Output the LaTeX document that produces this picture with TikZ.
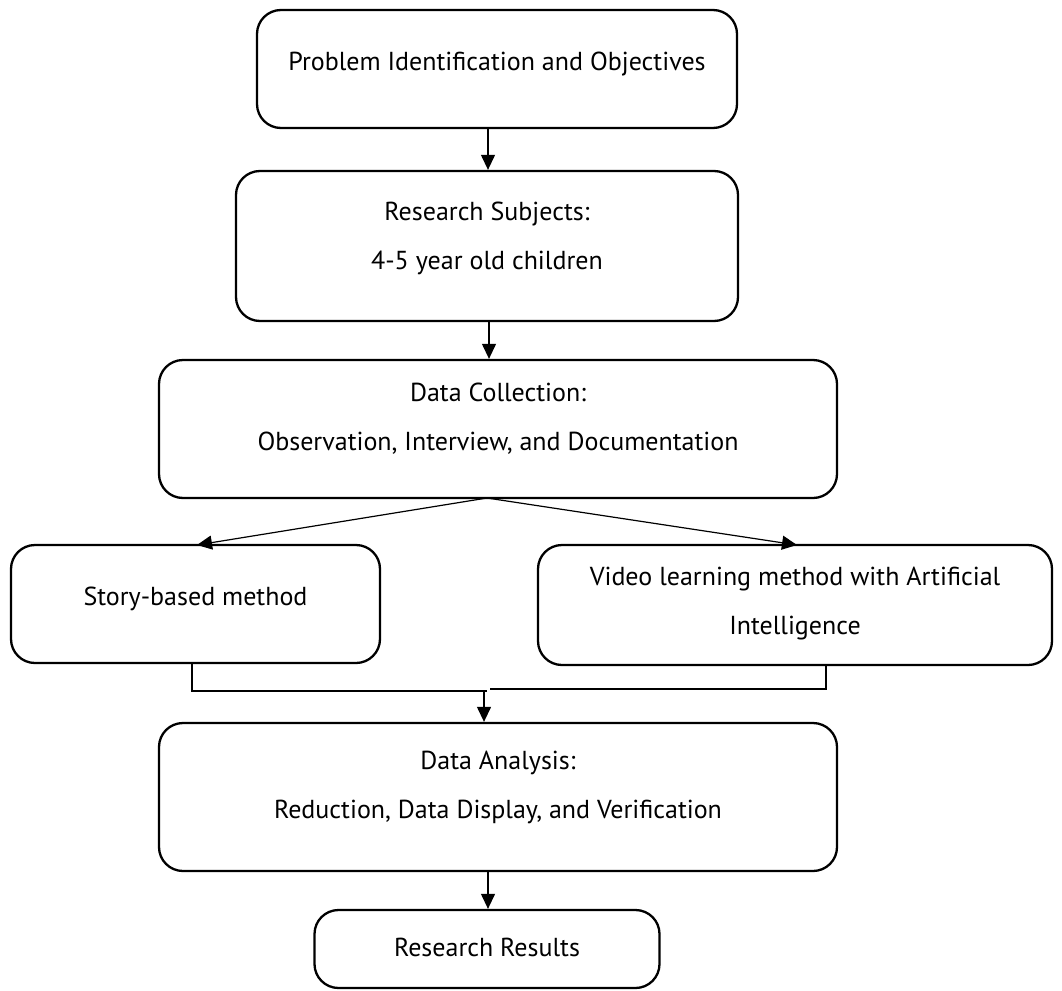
\documentclass[tikz,border=0pt]{standalone}
\usepackage{fontspec}
\setmainfont{PT Sans}
\usetikzlibrary{arrows.meta}
\begin{document}
\begin{tikzpicture}[x=1pt,y=-1pt,
  box/.style={draw, line width=2.3pt, rounded corners=24pt, inner sep=0pt},
  txt/.style={font=\fontsize{26}{49}\selectfont, align=center, inner sep=0pt},
  conn/.style={line width=1.2pt},
  arr/.style={line width=1.2pt, -{Triangle[length=15pt,width=14pt]}}]
\useasboundingbox (0,0) rectangle (1062,990);
% boxes
\node[box, minimum width=480pt, minimum height=118pt] (b1) at (497,69) {};
\node[box, minimum width=502pt, minimum height=150pt] (b2) at (487,246) {};
\node[box, minimum width=678pt, minimum height=138pt] (b3) at (498,429) {};
\node[box, minimum width=369pt, minimum height=118pt] (b4) at (195.5,604) {};
\node[box, minimum width=514pt, minimum height=120pt] (b5) at (795,605) {};
\node[box, minimum width=678pt, minimum height=148pt] (b6) at (498,797) {};
\node[box, minimum width=345pt, minimum height=78pt] (b7) at (487,949) {};
% texts
\node[txt] (t1) at (497,64) {Problem Identification and Objectives};
\node[txt] (t2) at (487,238) {Research Subjects:\\4-5 year old children};
\node[txt] (t3) at (498,419) {Data Collection:\\Observation, Interview, and Documentation};
\node[txt] (t4) at (195.5,599) {Story-based method};
\node[txt] (t5) at (795,604) {Video learning method with Artificial\\Intelligence};
\node[txt] (t6) at (498,787) {Data Analysis:\\Reduction, Data Display, and Verification};
\node[txt] (t7) at (487,947) {Research Results};
% connectors
\coordinate (s1) at (488,129);
\draw[arr] (s1) -- (b2.north -| s1);
\coordinate (s2) at (489,321);
\draw[arr] (s2) -- (b3.north -| s2);
\coordinate (fork) at (487,498);
\coordinate (e4) at (197,545);
\coordinate (e5) at (797,545);
\draw[arr] (fork) -- (e4);
\draw[arr] (fork) -- (e5);
\coordinate (l1) at (192,663);
\coordinate (l2) at (192,691);
\coordinate (l3) at (487,691);
\coordinate (r1) at (826,665);
\coordinate (r2) at (826,689);
\coordinate (r3) at (490,689);
\draw[conn] (l1) -- (l2) -- (l3);
\draw[conn] (r1) -- (r2) -- (r3);
\coordinate (m1) at (484,691);
\draw[arr] (m1) -- (b6.north -| m1);
\coordinate (m2) at (488,872);
\draw[arr] (m2) -- (b7.north -| m2);
\end{tikzpicture}
\end{document}
